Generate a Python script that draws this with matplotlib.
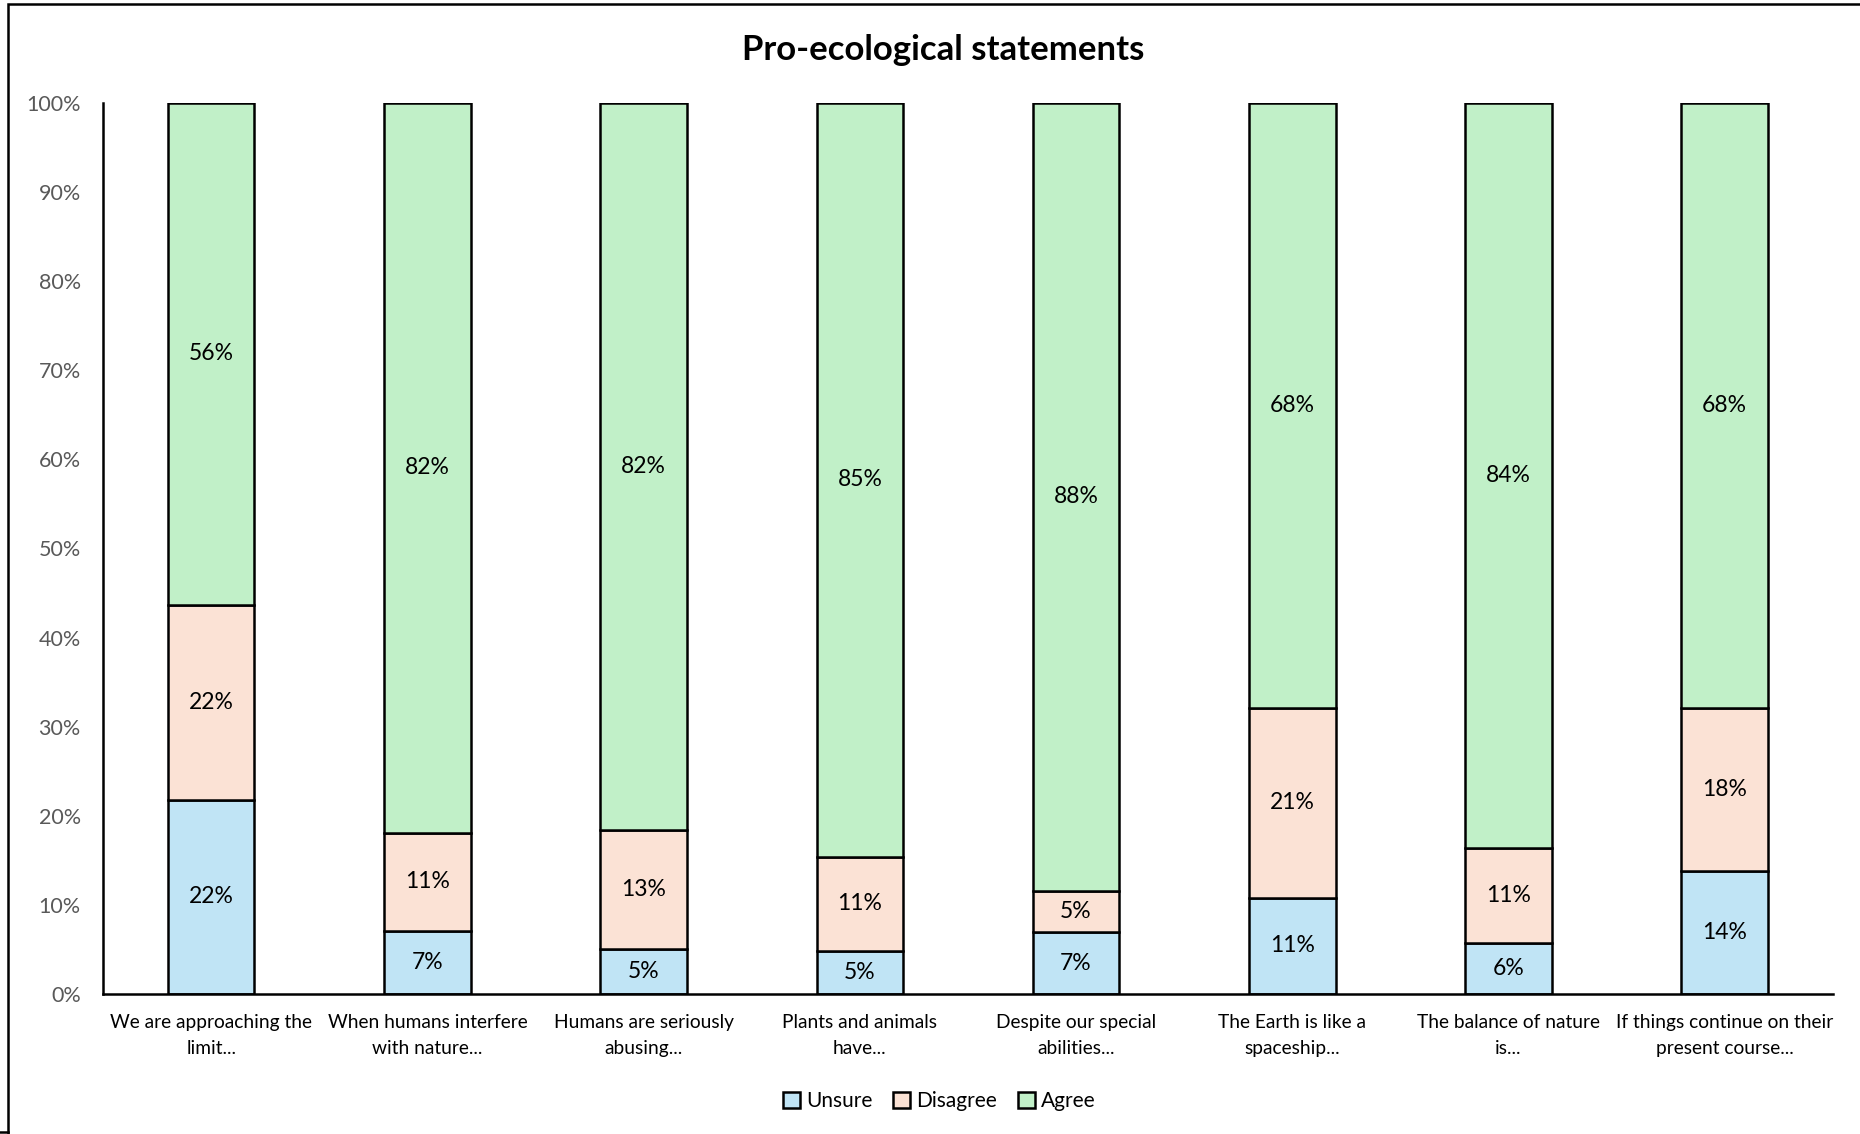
import matplotlib
matplotlib.use("Agg")
import matplotlib.pyplot as plt
import numpy as np
from matplotlib.patches import Rectangle
from matplotlib.lines import Line2D

plt.rcParams['font.family'] = ['Lato', 'DejaVu Sans']

categories = ["We are approaching the\nlimit...", "When humans interfere\nwith nature...",
              "Humans are seriously\nabusing...", "Plants and animals\nhave...",
              "Despite our special\nabilities...", "The Earth is like a\nspaceship...",
              "The balance of nature\nis...", "If things continue on their\npresent course..."]
unsure = [21.8, 7.1, 5.1, 4.8, 6.9, 10.8, 5.7, 13.8]
disagree = [21.9, 11.0, 13.3, 10.6, 4.7, 21.3, 10.7, 18.3]
agree = [56.3, 81.9, 81.6, 84.6, 88.4, 67.9, 83.6, 67.9]

series = [("Unsure", unsure, "#C0E4F5"),
          ("Disagree", disagree, "#FBE2D5"),
          ("Agree", agree, "#C1F0C8")]

fig = plt.figure(figsize=(18.6, 11.34), dpi=100)
ax = fig.add_axes([0.0554, 0.1235, 0.93, 0.7857])

x = np.arange(len(categories))
bottom = np.zeros(len(categories))
for name, vals, col in series:
    vals = np.array(vals)
    ax.bar(x, vals, 0.4, bottom=bottom, color=col, edgecolor="black",
           linewidth=1.8, label=name)
    for xi, b, v in zip(x, bottom, vals):
        ax.text(xi, b + v / 2, f"{v:.0f}%", ha="center", va="center",
                fontsize=16.5, color="black")
    bottom += vals

ax.set_xlim(-0.5, len(categories) - 0.5)
ax.set_ylim(0, 100)
ax.set_yticks(np.arange(0, 101, 10))
ax.set_yticklabels([f"{t}%" for t in range(0, 101, 10)], fontsize=15.5, color="#595959")
ax.set_xticks(x)
ax.set_xticklabels(categories, fontsize=13.8, linespacing=1.65)
ax.tick_params(axis="both", length=0)
ax.tick_params(axis="y", pad=16)
ax.tick_params(axis="x", pad=14.5)
for s in ["top", "right"]:
    ax.spines[s].set_visible(False)
for s in ["left", "bottom"]:
    ax.spines[s].set_linewidth(1.8)
    ax.spines[s].set_color("black")

fig.text(0.507, 0.9555, "Pro-ecological statements", ha="center", va="center",
         fontsize=25, fontweight="bold")

fig.legend(loc="center", bbox_to_anchor=(0.505, 0.029), ncol=3, frameon=False,
           fontsize=15, handlelength=0.8, handleheight=0.8, handletextpad=0.3,
           columnspacing=1.0)

# outer chart frame (runs off the right and bottom edges)
fig.patches.append(Rectangle((8 / 1860, -0.05), 1.1, 1 - 4 / 1134 + 0.05,
                             transform=fig.transFigure, fill=False,
                             edgecolor="black", linewidth=1.8))
fig.lines.append(Line2D([0, 8 / 1860], [2 / 1134, 2 / 1134],
                        transform=fig.transFigure, color="black", linewidth=1.8))

fig.savefig("out.png", dpi=100)
